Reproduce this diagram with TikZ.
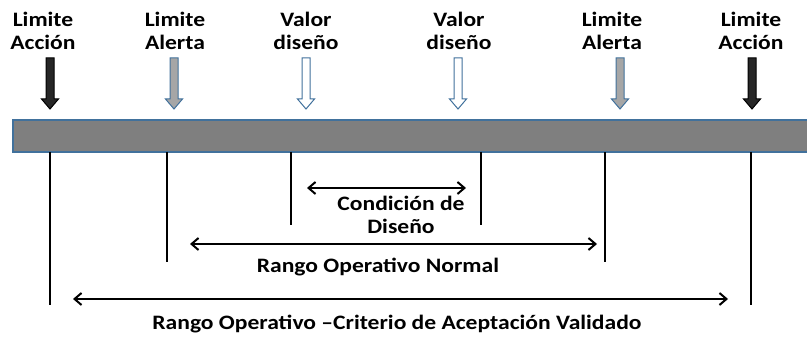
\documentclass[tikz,border=0pt]{standalone}
\usepackage{fontspec}
\setmainfont{Carlito}[FakeStretch=1.15]
\usetikzlibrary{arrows.meta}
\definecolor{barfill}{HTML}{7F7F7F}
\definecolor{barline}{HTML}{41719C}
\definecolor{accdark}{HTML}{262626}
\definecolor{alertgray}{HTML}{A6A6A6}
\tikzset{
  limlabel/.style = {align=center, inner sep=0pt, anchor=base,
    font=\bfseries\fontsize{20.5}{23.5}\selectfont},
  limline/.style = {line width=2pt, black},
  rangearrow/.style = {line width=2pt, black,
    {Straight Barb[length=7pt,width=12pt]}-{Straight Barb[length=7pt,width=12pt]}},
  actarrow/.style = {fill=accdark, draw=black},
  alertarrow/.style = {fill=alertgray, draw=barline},
  desarrow/.style = {fill=white, draw=barline},
  pics/blockarrow/.style = {code={
    \draw[line width=1pt, #1] (-4,0) -- (4,0) -- (4,41) -- (8.5,41)
      -- (0,51) -- (-8.5,41) -- (-4,41) -- cycle;
  }}
}

\begin{document}
\begin{tikzpicture}[x=1pt, y=-1pt]
    \useasboundingbox (0,0) rectangle (807,344);

    % labels over the bar (base = last line)
    \node [limlabel] (accL)   at (43,50)  {Limite\\Acción};
    \node [limlabel] (alertL) at (175,50) {Limite\\Alerta};
    \node [limlabel] (desL)   at (306,50) {Valor\\diseño};
    \node [limlabel] (desR)   at (459,50) {Valor\\diseño};
    \node [limlabel] (alertR) at (612,50) {Limite\\Alerta};
    \node [limlabel] (accR)   at (751,50) {Limite\\Acción};

    \pic at (50,58)  {blockarrow=actarrow};
    \pic at (174,58) {blockarrow=alertarrow};
    \pic at (306,58) {blockarrow=desarrow};
    \pic at (458,58) {blockarrow=desarrow};
    \pic at (620,58) {blockarrow=alertarrow};
    \pic at (752,58) {blockarrow=actarrow};

    % the bar
    \draw [fill=barfill, draw=barline, line width=1.5pt] (13,120) rectangle (812,152);

    % limit lines
    \coordinate (topAccL)   at (50,152);  \coordinate (botAccL)   at (50,305);
    \coordinate (topAlertL) at (167,152); \coordinate (botAlertL) at (167,262);
    \coordinate (topDesL)   at (291,152); \coordinate (botDesL)   at (291,225);
    \coordinate (topDesR)   at (481,152); \coordinate (botDesR)   at (481,225);
    \coordinate (topAlertR) at (605,152); \coordinate (botAlertR) at (605,262);
    \coordinate (topAccR)   at (751,152); \coordinate (botAccR)   at (751,305);
    \draw [limline] (topAccL) -- (botAccL);
    \draw [limline] (topAlertL) -- (botAlertL);
    \draw [limline] (topDesL) -- (botDesL);
    \draw [limline] (topDesR) -- (botDesR);
    \draw [limline] (topAlertR) -- (botAlertR);
    \draw [limline] (topAccR) -- (botAccR);

    % ranges
    \coordinate (desFrom) at (307,188); \coordinate (desTo) at (466,188);
    \coordinate (normFrom) at (190,244); \coordinate (normTo) at (597,244);
    \coordinate (valFrom) at (73,299); \coordinate (valTo) at (728,299);
    \draw [rangearrow] (desFrom) -- (desTo);
    \draw [rangearrow] (normFrom) -- (normTo);
    \draw [rangearrow] (valFrom) -- (valTo);

    \node [limlabel] (desText)  at (401,234) {Condición de\\Diseño};
    \node [limlabel] (normText) at (378,273) {Rango Operativo Normal};
    \node [limlabel] (valText)  at (397,330) {Rango Operativo –Criterio de Aceptación Validado};
\end{tikzpicture}
\end{document}
